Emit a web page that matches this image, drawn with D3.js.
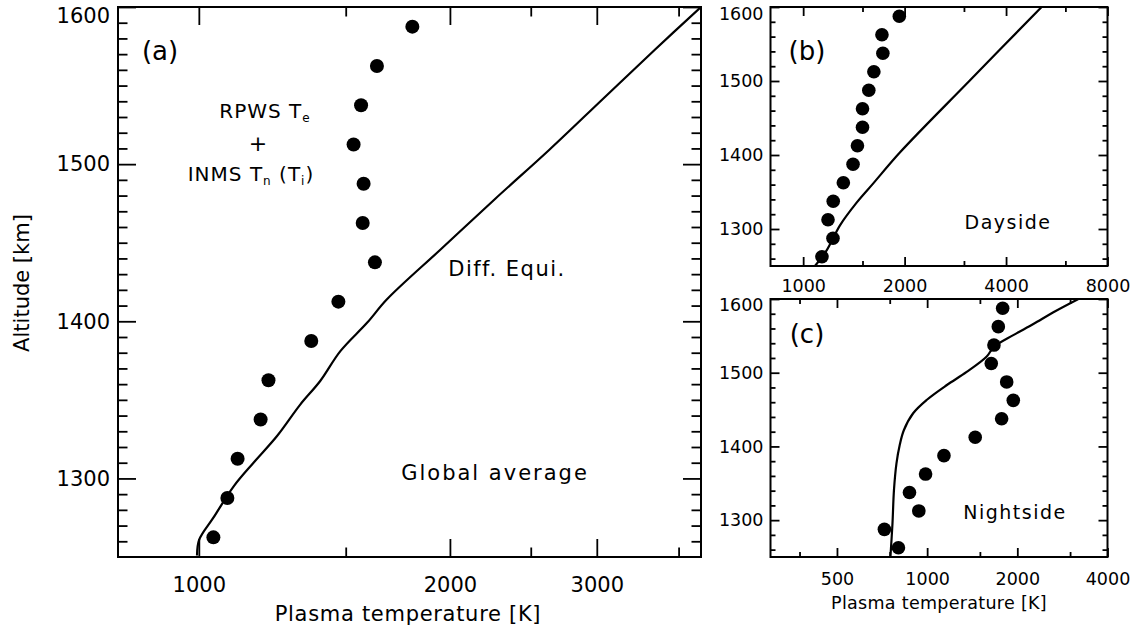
<!DOCTYPE html>
<html><head><meta charset="utf-8">
<script src="https://cdn.jsdelivr.net/npm/d3@7"></script>
<style>
body{margin:0;background:#fff}
svg text{font-family:"DejaVu Sans",sans-serif;fill:#000}
</style>
</head><body>
<svg id="chart" width="1136" height="631"></svg>
<script>
// ---------- data ----------
const binAltitudes = [1587.5, 1562.5, 1537.5, 1512.5, 1487.5, 1462.5, 1437.5, 1412.5, 1387.5, 1362.5, 1337.5, 1312.5, 1287.5, 1262.5];
const globalTemps   = [1803, 1635, 1565, 1533, 1576, 1572, 1626, 1470, 1364, 1212, 1186, 1113, 1082, 1041];
const daysideTemps  = [1929, 1713, 1724, 1621, 1566, 1500, 1500, 1449, 1406, 1316, 1228, 1185, 1226, 1137];
const nightsideTemps= [1787, 1728, 1671, 1637, 1843, 1939, 1773, 1447, 1138, 988, 873, 938, 720, 802];

const globalCurveAlt = [1251, 1261, 1275, 1295, 1310, 1327, 1347, 1362, 1381, 1399, 1414, 1446, 1478, 1509, 1541, 1573, 1600];
const globalCurveT   = [995, 1001, 1041, 1101, 1163, 1241, 1323, 1398, 1478, 1591, 1681, 1952, 2267, 2630, 3044, 3524, 4000];
const dayCurveAlt = [1250, 1271, 1305, 1336, 1362, 1404, 1500, 1600];
const dayCurveT   = [1084, 1174, 1286, 1443, 1617, 1942, 3112, 5100];
const nightCurveAlt = [1250, 1295, 1341, 1377, 1402, 1422, 1445, 1463, 1483, 1501, 1522, 1535, 1551, 1566, 1582, 1600];
const nightCurveT   = [754, 766, 775, 790, 810, 836, 898, 996, 1161, 1355, 1581, 1671, 1939, 2262, 2639, 3199];

const altDomain = [1250, 1600];
const altMajor = [1300, 1400, 1500, 1600];
const xDomainA = [800, 4000], xMajorA = [1000, 2000, 3000], xMinorA = [1500, 2500, 3760];
const xDomainB = [800, 8000], xMajorB = [1000, 2000, 4000, 8000], xMinorB = [1500, 3000, 6000];
const xDomainC = [300, 4000], xMajorC = [500, 1000, 2000, 4000], xMinorC = [375, 750, 1500, 3000];
const altMinorA = d3.range(1260, 1600, 10).filter(v => v % 100 !== 0);
const altMinorBC = d3.range(1260, 1600, 20).filter(v => v % 100 !== 0);

const svg = d3.select("#chart");
svg.append("rect").attr("width",1136).attr("height",631).attr("fill","#fff");

function panel(o) {
  const g = svg.append("g");
  const x = d3.scaleLog().domain(o.xDomain).range([o.left, o.right]);
  const y = d3.scaleLinear().domain(altDomain).range([o.bottom, o.top]);
  const id = "clip" + o.name;
  svg.append("clipPath").attr("id", id).append("rect")
    .attr("x", o.left).attr("y", o.top).attr("width", o.right - o.left).attr("height", o.bottom - o.top);

  function ticks(axisFn, scale, vals, len, tx, ty) {
    const a = g.append("g").attr("transform", `translate(${tx},${ty})`)
      .call(axisFn(scale).tickValues(vals).tickSize(-len).tickFormat(""));
    a.select(".domain").remove();
    a.selectAll("line").attr("stroke", "#000").attr("stroke-width", 1.8);
  }
  ticks(d3.axisBottom, x, o.xMajor, o.majLen, 0, o.bottom);
  ticks(d3.axisBottom, x, o.xMinor, o.minLen, 0, o.bottom);
  ticks(d3.axisTop, x, o.xMajor, o.majLen, 0, o.top);
  ticks(d3.axisTop, x, o.xMinor, o.minLen, 0, o.top);
  ticks(d3.axisLeft, y, altMajor, o.majLen, o.left, 0);
  ticks(d3.axisLeft, y, o.altMinor, o.minLen, o.left, 0);
  ticks(d3.axisRight, y, altMajor, o.majLen, o.right, 0);
  ticks(d3.axisRight, y, o.altMinor, o.minLen, o.right, 0);

  // labels
  const xl = g.append("g").attr("transform", `translate(0,${o.bottom})`)
    .call(d3.axisBottom(x).tickValues(o.xLabels).tickSize(0).tickPadding(o.xPad).tickFormat(d3.format("d")));
  xl.select(".domain").remove();
  xl.selectAll("text").attr("font-size", o.fs).attr("font-family", "DejaVu Sans");
  const yl = g.append("g").attr("transform", `translate(${o.left},0)`)
    .call(d3.axisLeft(y).tickValues(altMajor).tickSize(0).tickPadding(o.yPad).tickFormat(d3.format("d")));
  yl.select(".domain").remove();
  yl.selectAll("text").attr("font-size", o.fs).attr("font-family", "DejaVu Sans");
  yl.selectAll(".tick").filter(d => d === 1600).select("text").attr("dy", o.topDy);

  // frame
  g.append("rect").attr("x", o.left).attr("y", o.top)
    .attr("width", o.right - o.left).attr("height", o.bottom - o.top)
    .attr("fill", "none").attr("stroke", "#000").attr("stroke-width", 2);

  // model curve
  const line = d3.line().x(d => x(d[0])).y(d => y(d[1])).curve(d3.curveCatmullRom);
  const pts = o.curveT.map((t, i) => [t, o.curveAlt[i]]);
  g.append("path").attr("d", line(pts)).attr("fill", "none")
    .attr("stroke", "#000").attr("stroke-width", 2.2).attr("clip-path", `url(#${id})`);

  // data points
  g.selectAll("circle.pt").data(o.temps).join("circle").attr("class", "pt")
    .attr("cx", d => x(d)).attr("cy", (d, i) => y(binAltitudes[i])).attr("r", o.r).attr("fill", "#000");
  return {g, x, y};
}

const A = panel({name:"a", left:118, right:701, top:7, bottom:557, xDomain:xDomainA,
  xMajor:xMajorA, xMinor:xMinorA, xLabels:xMajorA, altMinor:altMinorA, majLen:18, minLen:9.5,
  fs:21, xPad:20, yPad:8, topDy:"0.75em", curveT:globalCurveT, curveAlt:globalCurveAlt, temps:globalTemps, r:7});
const B = panel({name:"b", left:770.5, right:1107.5, top:7, bottom:266, xDomain:xDomainB,
  xMajor:xMajorB, xMinor:xMinorB, xLabels:xMajorB, altMinor:altMinorBC, majLen:9, minLen:5,
  fs:17.5, xPad:14, yPad:7, topDy:"0.72em", curveT:dayCurveT, curveAlt:dayCurveAlt, temps:daysideTemps, r:6.8});
const C = panel({name:"c", left:770.5, right:1107.5, top:299, bottom:557, xDomain:xDomainC,
  xMajor:xMajorC, xMinor:xMinorC, xLabels:xMajorC, altMinor:altMinorBC, majLen:9, minLen:5,
  fs:17.5, xPad:16, yPad:7, topDy:"0.65em", curveT:nightCurveT, curveAlt:nightCurveAlt, temps:nightsideTemps, r:6.8});

// ---------- text ----------
function txt(x, y, s, fs, anchor, ls) {
  return svg.append("text").attr("x", x).attr("y", y).attr("font-size", fs)
    .attr("text-anchor", anchor || "middle").attr("letter-spacing", ls || 0).text(s);
}
svg.append("text").attr("transform", "translate(29,283) rotate(-90)").attr("text-anchor", "middle")
  .attr("font-size", 21).text("Altitude [km]");
txt(408, 621, "Plasma temperature [K]", 21, "middle", 0.7);
txt(939, 609, "Plasma temperature [K]", 17.5, "middle", 0.3);

txt(160, 60, "(a)", 26);
txt(807, 60, "(b)", 26);
txt(807, 343, "(c)", 26);

// RPWS Te + INMS Tn (Ti)
const t1 = svg.append("text").attr("x", 265).attr("y", 118).attr("font-size", 20).attr("text-anchor", "middle").attr("letter-spacing", 1);
t1.append("tspan").text("RPWS T");
t1.append("tspan").attr("font-size", 12).attr("dy", 4).text("e");
txt(258, 151, "+", 22);
const t2 = svg.append("text").attr("x", 251).attr("y", 181).attr("font-size", 20).attr("text-anchor", "middle").attr("letter-spacing", 1);
t2.append("tspan").text("INMS T");
t2.append("tspan").attr("font-size", 12).attr("dy", 4).text("n");
t2.append("tspan").attr("dy", -4).text(" (T");
t2.append("tspan").attr("font-size", 12).attr("dy", 4).text("i");
t2.append("tspan").attr("dy", -4).text(")");

txt(507, 276, "Diff. Equi.", 21, "middle", 1.5);
txt(495, 480, "Global average", 21, "middle", 2);
txt(1008, 229, "Dayside", 19, "middle", 1.5);
txt(1015, 519, "Nightside", 19, "middle", 1.5);
</script>
</body></html>
